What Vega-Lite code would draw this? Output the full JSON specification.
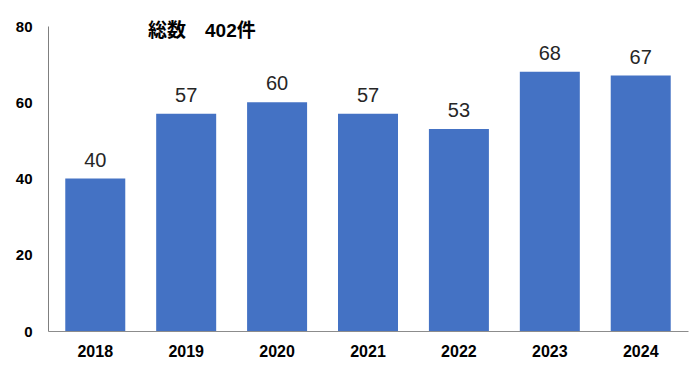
{
  "$schema": "https://vega.github.io/schema/vega-lite/v6.json",
  "width": 640,
  "height": 305,
  "autosize": {"type": "none"},
  "padding": {"left": 48, "top": 26, "right": 10, "bottom": 41},
  "background": "white",
  "title": {
    "text": "総数　402件",
    "anchor": "start",
    "frame": "group",
    "dx": 100,
    "dy": 27,
    "offset": -4,
    "baseline": "middle",
    "font": "Liberation Sans, Noto Sans CJK JP",
    "fontSize": 19,
    "fontWeight": "bold",
    "color": "#000000"
  },
  "data": {
    "values": [
      {"year": "2018", "count": 40},
      {"year": "2019", "count": 57},
      {"year": "2020", "count": 60},
      {"year": "2021", "count": 57},
      {"year": "2022", "count": 53},
      {"year": "2023", "count": 68},
      {"year": "2024", "count": 67}
    ]
  },
  "encoding": {
    "x": {
      "field": "year",
      "type": "nominal",
      "sort": null,
      "scale": {"paddingInner": 0.34, "paddingOuter": 0.19},
      "axis": {
        "title": null,
        "labelAngle": 0,
        "labelFont": "Liberation Sans",
        "labelFontSize": 16,
        "labelFontWeight": "bold",
        "labelColor": "#000000",
        "labelPadding": 12,
        "ticks": false,
        "domainColor": "#8c8c8c",
        "domainWidth": 1
      }
    },
    "y": {
      "field": "count",
      "type": "quantitative",
      "scale": {"domain": [0, 80]},
      "axis": {
        "title": null,
        "values": [0, 20, 40, 60, 80],
        "grid": false,
        "ticks": false,
        "labelFont": "Liberation Sans",
        "labelFontSize": 15,
        "labelFontWeight": "bold",
        "labelColor": "#000000",
        "labelPadding": 16,
        "domainColor": "#7f7f7f",
        "domainWidth": 1
      }
    }
  },
  "layer": [
    {"mark": {"type": "bar", "color": "#4472C4"}},
    {
      "mark": {
        "type": "text",
        "baseline": "alphabetic",
        "dy": -12,
        "font": "Liberation Sans",
        "fontSize": 20,
        "color": "#262626"
      },
      "encoding": {"text": {"field": "count", "type": "quantitative"}}
    }
  ],
  "config": {"view": {"stroke": null}}
}
